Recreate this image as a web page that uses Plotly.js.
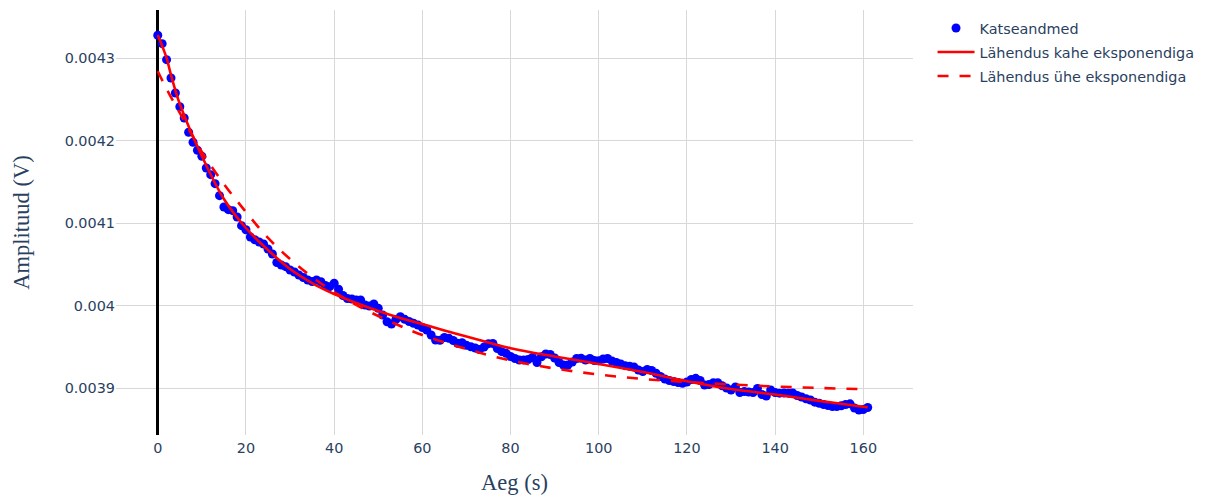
<!DOCTYPE html>
<html>
<head>
<meta charset="utf-8">
<script src="https://cdn.plot.ly/plotly-3.0.1.min.js"></script>
<style>
  html, body { margin: 0; padding: 0; background: #ffffff; }
  #chart { width: 1210px; height: 497px; }
</style>
</head>
<body>
<div id="chart"></div>
<script>
// Measured time (s)
const time = [
  0, 1, 2, 3, 4, 5, 6, 7, 8, 9, 10, 11, 12, 13, 14, 15, 16, 17, 18, 19,
  20, 21, 22, 23, 24, 25, 26, 27, 28, 29, 30, 31, 32, 33, 34, 35, 36, 37, 38, 39,
  40, 41, 42, 43, 44, 45, 46, 47, 48, 49, 50, 51, 52, 53, 54, 55, 56, 57, 58, 59,
  60, 61, 62, 63, 64, 65, 66, 67, 68, 69, 70, 71, 72, 73, 74, 75, 76, 77, 78, 79,
  80, 81, 82, 83, 84, 85, 86, 87, 88, 89, 90, 91, 92, 93, 94, 95, 96, 97, 98, 99,
  100, 101, 102, 103, 104, 105, 106, 107, 108, 109, 110, 111, 112, 113, 114, 115, 116, 117, 118, 119,
  120, 121, 122, 123, 124, 125, 126, 127, 128, 129, 130, 131, 132, 133, 134, 135, 136, 137, 138, 139,
  140, 141, 142, 143, 144, 145, 146, 147, 148, 149, 150, 151, 152, 153, 154, 155, 156, 157, 158, 159,
  160, 161
];

// Measured amplitude (V)
const amplitude = [
  0.0043279, 0.0043177, 0.0042983, 0.0042761, 0.0042579, 0.0042413, 0.0042276, 0.0042103, 0.0041982, 0.0041885,
  0.0041812, 0.0041670, 0.0041589, 0.0041480, 0.0041335, 0.0041198, 0.0041165, 0.0041153, 0.0041076, 0.0040971,
  0.0040922, 0.0040834, 0.0040801, 0.0040773, 0.0040749, 0.0040688, 0.0040628, 0.0040525, 0.0040494, 0.0040474,
  0.0040434, 0.0040410, 0.0040373, 0.0040343, 0.0040313, 0.0040295, 0.0040313, 0.0040292, 0.0040246, 0.0040232,
  0.0040273, 0.0040200, 0.0040125, 0.0040089, 0.0040082, 0.0040070, 0.0040070, 0.0040010, 0.0039998, 0.0040022,
  0.0039970, 0.0039889, 0.0039807, 0.0039779, 0.0039834, 0.0039868, 0.0039836, 0.0039810, 0.0039788, 0.0039767,
  0.0039737, 0.0039707, 0.0039646, 0.0039585, 0.0039582, 0.0039616, 0.0039606, 0.0039579, 0.0039545, 0.0039553,
  0.0039521, 0.0039503, 0.0039488, 0.0039470, 0.0039501, 0.0039541, 0.0039543, 0.0039482, 0.0039444, 0.0039424,
  0.0039385, 0.0039361, 0.0039343, 0.0039343, 0.0039349, 0.0039373, 0.0039313, 0.0039383, 0.0039416, 0.0039410,
  0.0039367, 0.0039313, 0.0039282, 0.0039282, 0.0039319, 0.0039361, 0.0039364, 0.0039343, 0.0039361, 0.0039337,
  0.0039335, 0.0039355, 0.0039361, 0.0039331, 0.0039313, 0.0039295, 0.0039274, 0.0039267, 0.0039258, 0.0039222,
  0.0039204, 0.0039228, 0.0039216, 0.0039182, 0.0039143, 0.0039113, 0.0039095, 0.0039082, 0.0039070, 0.0039061,
  0.0039076, 0.0039107, 0.0039121, 0.0039095, 0.0039040, 0.0039046, 0.0039068, 0.0039068, 0.0039031, 0.0039004,
  0.0038979, 0.0039016, 0.0038949, 0.0038961, 0.0038955, 0.0038949, 0.0038998, 0.0038925, 0.0038907, 0.0038979,
  0.0038949, 0.0038941, 0.0038943, 0.0038941, 0.0038943, 0.0038913, 0.0038895, 0.0038874, 0.0038858, 0.0038832,
  0.0038819, 0.0038804, 0.0038792, 0.0038779, 0.0038779, 0.0038788, 0.0038804, 0.0038812, 0.0038761, 0.0038737,
  0.0038743, 0.0038767
];

// Two-exponential fit, sampled
const fitTwoTime = [0, 1, 2, 3, 5, 10, 15, 20, 25, 30, 35, 40, 45, 50, 55, 60, 65, 70, 75, 80, 90, 100, 110, 120, 130, 140, 150, 160, 161];
const fitTwoAmp = [
  0.0043282, 0.0043149, 0.0043004, 0.0042798, 0.0042446, 0.0041816, 0.0041295, 0.0040943, 0.0040676, 0.0040446,
  0.0040276, 0.0040143, 0.0040034, 0.0039937, 0.0039852, 0.0039779, 0.0039701, 0.0039628, 0.0039555, 0.0039485,
  0.0039385, 0.0039295, 0.0039198, 0.0039086, 0.0038991, 0.0038924, 0.0038848, 0.0038777, 0.0038770
];

// One-exponential fit, sampled
const fitOneTime = [0, 2, 5, 10, 15, 20, 25, 30, 35, 40, 45, 50, 55, 60, 70, 80, 90, 100, 110, 120, 130, 140, 150, 160];
const fitOneAmp = [
  0.0042842, 0.0042628, 0.0042337, 0.0041864, 0.0041476, 0.0041137, 0.0040822, 0.0040567, 0.0040349, 0.0040167,
  0.0040010, 0.0039876, 0.0039755, 0.0039646, 0.0039476, 0.0039337, 0.0039240, 0.0039167, 0.0039113, 0.0039076,
  0.0039046, 0.0039022, 0.0039004, 0.0038989
];

const seriesNames = ['Katseandmed', 'Lähendus kahe eksponendiga', 'Lähendus ühe eksponendiga'];
const xTicks = [0, 20, 40, 60, 80, 100, 120, 140, 160];
const yTicks = [0.0039, 0.004, 0.0041, 0.0042, 0.0043];
const yTickText = ['0.0039', '0.004', '0.0041', '0.0042', '0.0043'];

const traces = [
  {
    x: time, y: amplitude, name: seriesNames[0], legendgroup: 'a',
    type: 'scatter', mode: 'markers',
    marker: { color: '#0000ff', size: 9 }
  },
  {
    x: fitTwoTime, y: fitTwoAmp, name: seriesNames[1], legendgroup: 'b',
    type: 'scatter', mode: 'lines',
    line: { color: '#ff0000', width: 2.6, shape: 'spline' }
  },
  {
    x: fitOneTime, y: fitOneAmp, name: seriesNames[2], legendgroup: 'c',
    type: 'scatter', mode: 'lines',
    line: { color: '#ff0000', width: 2.6, dash: '11px,11px', shape: 'spline' }
  }
];

const tickFont = { family: 'DejaVu Sans, Verdana, sans-serif', size: 14.4, color: '#2a3f5f' };
const titleFont = { family: 'Liberation Serif, Times New Roman, serif', size: 22.5, color: '#2a3f5f' };

const layout = {
  width: 1210,
  height: 497,
  margin: { l: 116, r: 292, t: 10, b: 62, pad: 0 },
  paper_bgcolor: '#ffffff',
  plot_bgcolor: '#ffffff',
  font: tickFont,
  showlegend: true,
  legend: {
    x: 1.0245, y: 0.995, xanchor: 'left', yanchor: 'top',
    font: tickFont, itemwidth: 37, tracegroupgap: 2.3,
    bgcolor: 'rgba(0,0,0,0)'
  },
  xaxis: {
    range: [-9.47, 171.27],
    tickvals: xTicks,
    showgrid: true, gridcolor: '#d8d8d8', gridwidth: 1,
    zeroline: true, zerolinecolor: '#000000', zerolinewidth: 2.8,
    showline: false, ticks: '',
    ticklabelstandoff: 3,
    tickfont: tickFont,
    title: { text: 'Aeg (s)', font: titleFont, standoff: 18 }
  },
  yaxis: {
    range: [0.0038434, 0.0043585],
    tickvals: yTicks, ticktext: yTickText,
    showgrid: true, gridcolor: '#d8d8d8', gridwidth: 1,
    zeroline: false, showline: false, ticks: '',
    tickfont: tickFont,
    title: { text: 'Amplituud (V)', font: titleFont, standoff: 28 }
  }
};

Plotly.newPlot('chart', traces, layout, { displayModeBar: false, staticPlot: true });
</script>
</body>
</html>
